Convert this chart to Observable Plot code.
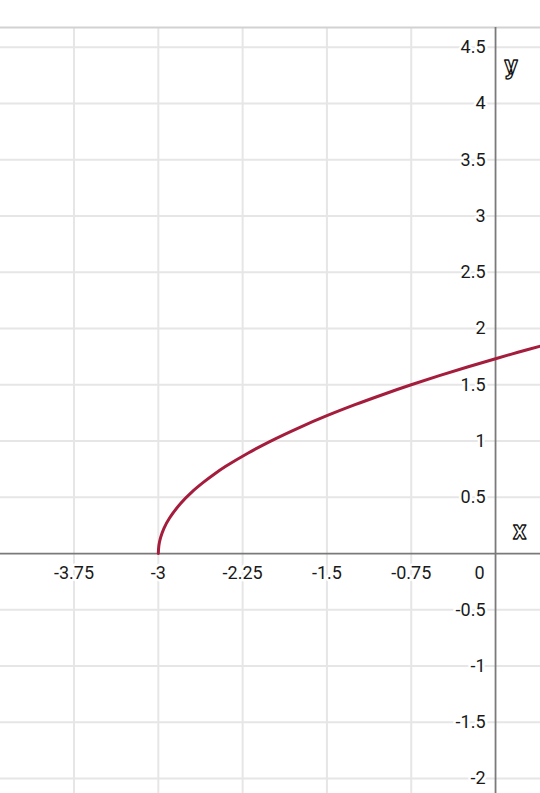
<!DOCTYPE html>
<html>
<head>
<meta charset="utf-8">
<script src="https://cdn.jsdelivr.net/npm/d3@7"></script>
<script src="https://cdn.jsdelivr.net/npm/@observablehq/plot@0.6"></script>
<style>
  html, body { margin: 0; padding: 0; background: #fff; }
  #chart svg { display: block; }
</style>
</head>
<body>
<div id="chart"></div>
<script>
// Curve points (y = √(x+3))
const curveX = [-3, -2.995, -2.98, -2.95, -2.9, -2.8, -2.7, -2.6, -2.5, -2.4, -2.2, -2.0, -1.75, -1.5, -1.25, -1.0, -0.75, -0.5, -0.25, 0, 0.2, 0.4];
const curveY = [0, 0.071, 0.141, 0.224, 0.316, 0.447, 0.548, 0.632, 0.707, 0.775, 0.894, 1.0, 1.118, 1.225, 1.323, 1.414, 1.5, 1.581, 1.658, 1.732, 1.789, 1.844];

// Tick values / labels
const xTicks = [-3.75, -3, -2.25, -1.5, -0.75];
const xTickLabels = ["-3.75", "-3", "-2.25", "-1.5", "-0.75"];
const yTicks = [4.5, 4, 3.5, 3, 2.5, 2, 1.5, 1, 0.5, -0.5, -1, -1.5, -2];
const yTickLabels = ["4.5", "4", "3.5", "3", "2.5", "2", "1.5", "1", "0.5", "-0.5", "-1", "-1.5", "-2"];
const xGrid = [-3.75, -3, -2.25, -1.5, -0.75];
const yGrid = [4.5, 4, 3.5, 3, 2.5, 2, 1.5, 1, 0.5, -0.5, -1, -1.5, -2];

const xDomain = [-4.404, 0.40];
const yDomain = [-2.133, 4.676];

const curve = curveX.map((x, i) => ({x, y: curveY[i]}));
const xt = xTicks.map((v, i) => ({v, label: xTickLabels[i]}));
const yt = yTicks.map((v, i) => ({v, label: yTickLabels[i]}));

const font = "Roboto, 'Noto Sans', sans-serif";
const fs = 18;

const chart = Plot.plot({
  width: 540,
  height: 793,
  marginTop: 27,
  marginBottom: 0,
  marginLeft: 0,
  marginRight: 0,
  style: {fontFamily: font, background: "#fff"},
  x: {domain: xDomain, axis: null},
  y: {domain: yDomain, axis: null},
  marks: [
    Plot.ruleX(xGrid, {stroke: "#e6e6e6", strokeWidth: 2}),
    Plot.ruleY(yGrid, {stroke: "#e6e6e6", strokeWidth: 2}),
    Plot.ruleY([yDomain[1]], {stroke: "#d2d2d2", strokeWidth: 2}),
    Plot.ruleX([0], {stroke: "#7a7a7a", strokeWidth: 1.8}),
    Plot.ruleY([0], {stroke: "#7a7a7a", strokeWidth: 1.8}),
    Plot.text(xt, {x: "v", y: () => 0, text: "label", dy: 20, fontSize: fs, fill: "#1a1a1a", stroke: "white", strokeWidth: 5, textAnchor: "middle"}),
    Plot.text(["0"], {x: () => 0, y: () => 0, text: d => d, dx: -16, dy: 20, fontSize: fs, fill: "#1a1a1a", stroke: "white", strokeWidth: 5}),
    Plot.text(yt, {x: () => 0, y: "v", text: "label", dx: -10, textAnchor: "end", fontSize: fs, fill: "#1a1a1a", stroke: "white", strokeWidth: 5}),
    Plot.line(curve, {x: "x", y: "y", stroke: "#a51d3c", strokeWidth: 3, curve: "catmull-rom"}),
    Plot.text(["y"], {frameAnchor: "top-right", text: d => d, dx: -23, dy: 28, fontSize: 26, fontWeight: "bold", fill: "white", stroke: "#111", strokeWidth: 1.3, paintOrder: "fill"}),
    Plot.text(["x"], {x: () => 0, y: () => 0, text: d => d, dx: 24, dy: -23, fontSize: 26, fontWeight: "bold", fill: "white", stroke: "#111", strokeWidth: 1.3, paintOrder: "fill"})
  ]
});
document.getElementById("chart").appendChild(chart);
</script>
</body>
</html>
